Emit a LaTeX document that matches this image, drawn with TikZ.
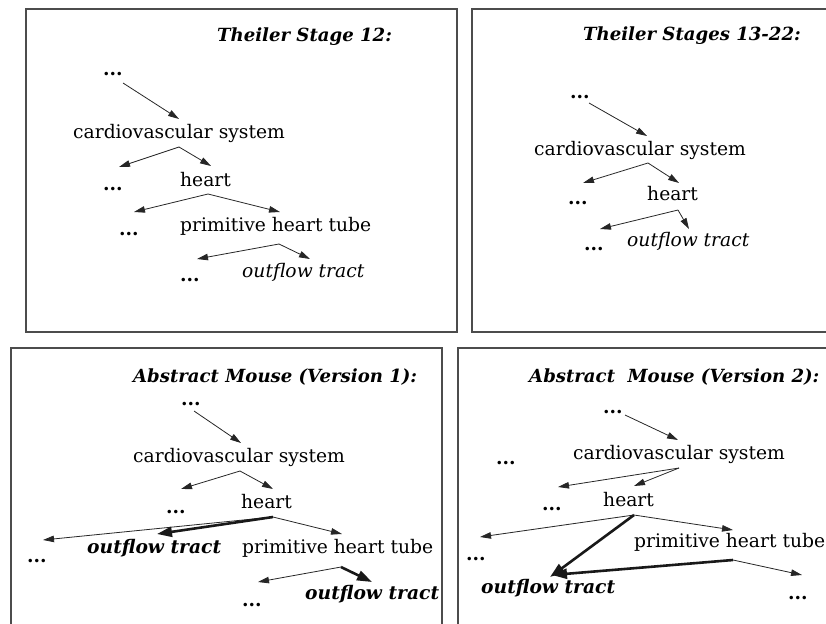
\documentclass[tikz,border=0pt]{standalone}
\usepackage{fontspec}
\setmainfont{DejaVu Serif}
\usetikzlibrary{arrows.meta}
\begin{document}
\begin{tikzpicture}[x=1pt,y=-1pt,
 txt/.style={anchor=base west, inner sep=0pt, font=\fontsize{18.7}{22}\selectfont, text=black},
 dts/.style={anchor=base west, inner sep=0pt, font=\fontsize{18.7}{22}\selectfont\bfseries, text=black},
 ttl/.style={anchor=base west, inner sep=0pt, font=\fontsize{18.1}{22}\selectfont\bfseries\itshape, text=black},
 ofi/.style={txt, font=\fontsize{18.7}{22}\selectfont\itshape},
 ofb/.style={txt, font=\fontsize{18.7}{22}\selectfont\bfseries\itshape},
 arr/.style={draw=black!85, line width=0.8pt, -{Triangle[length=11pt,width=6.5pt]}},
 tarr/.style={draw=black!90, line width=2.6pt, -{Triangle[length=15pt,width=10pt]}},
 panel/.style={draw=black!70, line width=1.2pt}]
\useasboundingbox (0,0) rectangle (826,623);
\clip (0,0) rectangle (826,623);
% panels
\draw[panel] (26,9) rectangle (457,332);
\draw[panel] (472,9) rectangle (840,332);
\draw[panel] (11,348) rectangle (442,640);
\draw[panel] (458,348) rectangle (840,640);

% ---------- Panel 1 ----------
\node[ttl] (t1) at (217,42) {Theiler Stage 12:};
\node[dts] (a1) at (103,76) {...};
\node[txt] (a2) at (73,138) {cardiovascular system};
\node[dts] (a3) at (103,190) {...};
\node[txt] (a4) at (180,186) {heart};
\node[dts] (a5) at (119,235) {...};
\node[txt] (a6) at (180,231) {primitive heart tube};
\node[dts] (a7) at (180,281) {...};
\node[ofi] (a8) at (242,277) {outflow tract};
\coordinate (a1s) at (123,83);  \coordinate (a2e) at (179,119);
\coordinate (a2s) at (179,147); \coordinate (a3e) at (119,167); \coordinate (a4e) at (211,166);
\coordinate (a4s) at (208,194); \coordinate (a5e) at (134,212); \coordinate (a6e) at (280,212);
\coordinate (a6s) at (279,244); \coordinate (a7e) at (197,259); \coordinate (a8e) at (310,259);
\draw[arr] (a1s) -- (a2e);
\draw[arr] (a2s) -- (a3e);
\draw[arr] (a2s) -- (a4e);
\draw[arr] (a4s) -- (a5e);
\draw[arr] (a4s) -- (a6e);
\draw[arr] (a6s) -- (a7e);
\draw[arr] (a6s) -- (a8e);

% ---------- Panel 2 ----------
\node[ttl] (t2) at (583,41) {Theiler Stages 13-22:};
\node[dts] (b1) at (570,99) {...};
\node[txt] (b2) at (534,155) {cardiovascular system};
\node[dts] (b3) at (568,204) {...};
\node[txt] (b4) at (647,200) {heart};
\node[dts] (b5) at (584,250) {...};
\node[ofi] (b6) at (627,246) {outflow tract};
\coordinate (b1s) at (589,103); \coordinate (b2e) at (647,136);
\coordinate (b2s) at (648,163); \coordinate (b3e) at (583,183); \coordinate (b4e) at (679,183);
\coordinate (b4s) at (678,210); \coordinate (b5e) at (600,229); \coordinate (b6e) at (689,229);
\draw[arr] (b1s) -- (b2e);
\draw[arr] (b2s) -- (b3e);
\draw[arr] (b2s) -- (b4e);
\draw[arr] (b4s) -- (b5e);
\draw[arr] (b4s) -- (b6e);

% ---------- Panel 3 ----------
\node[ttl] (t3) at (133,382) {Abstract Mouse (Version 1):};
\node[dts] (c1) at (181,405) {...};
\node[txt] (c2) at (133,462) {cardiovascular system};
\node[dts] (c3) at (166,513) {...};
\node[txt] (c4) at (241,508) {heart};
\node[dts] (c5) at (27,562) {...};
\node[ofb] (c6) at (87,553) {outflow tract};
\node[txt] (c7) at (242,553) {primitive heart tube};
\node[dts] (c8) at (242,606) {...};
\node[ofb] (c9) at (305,599) {outflow tract};
\coordinate (c1s) at (194,411); \coordinate (c2e) at (241,443);
\coordinate (c2s) at (240,471); \coordinate (c3e) at (181,489); \coordinate (c4e) at (273,489);
\coordinate (c4s) at (273,517); \coordinate (c5e) at (43,540); \coordinate (c6e) at (157,534); \coordinate (c7e) at (342,534);
\coordinate (c7s) at (341,567); \coordinate (c8e) at (258,582); \coordinate (c9e) at (372,582);
\draw[arr] (c1s) -- (c2e);
\draw[arr] (c2s) -- (c3e);
\draw[arr] (c2s) -- (c4e);
\draw[arr] (c4s) -- (c5e);
\draw[tarr] (c4s) -- (c6e);
\draw[arr] (c4s) -- (c7e);
\draw[arr] (c7s) -- (c8e);
\draw[tarr] (c7s) -- (c9e);

% ---------- Panel 4 ----------
\node[ttl] (t4) at (529,382) {Abstract\ \ Mouse (Version 2):};
\node[dts] (d1) at (603,413) {...};
\node[txt] (d2) at (573,459) {cardiovascular system};
\node[dts] (d3) at (496,464) {...};
\node[dts] (d4) at (542,510) {...};
\node[txt] (d5) at (603,506) {heart};
\node[dts] (d6) at (466,560) {...};
\node[txt] (d7) at (634,547) {primitive heart tube};
\node[ofb] (d8) at (481,593) {outflow tract};
\node[dts] (d9) at (788,599) {...};
\coordinate (d1s) at (625,415); \coordinate (d2e) at (678,440);
\coordinate (d2s) at (679,468); \coordinate (d4e) at (558,487); \coordinate (d5e) at (634,486);
\coordinate (d5s) at (634,515); \coordinate (d6e) at (480,537); \coordinate (d8e) at (550,577); \coordinate (d7e) at (733,530);
\coordinate (d7s) at (733,560); \coordinate (d8f) at (552,575); \coordinate (d9e) at (802,575);
\draw[arr] (d1s) -- (d2e);
\draw[arr] (d2s) -- (d4e);
\draw[arr] (d2s) -- (d5e);
\draw[arr] (d5s) -- (d6e);
\draw[tarr] (d5s) -- (d8e);
\draw[arr] (d5s) -- (d7e);
\draw[tarr] (d7s) -- (d8f);
\draw[arr] (d7s) -- (d9e);
\end{tikzpicture}
\end{document}
